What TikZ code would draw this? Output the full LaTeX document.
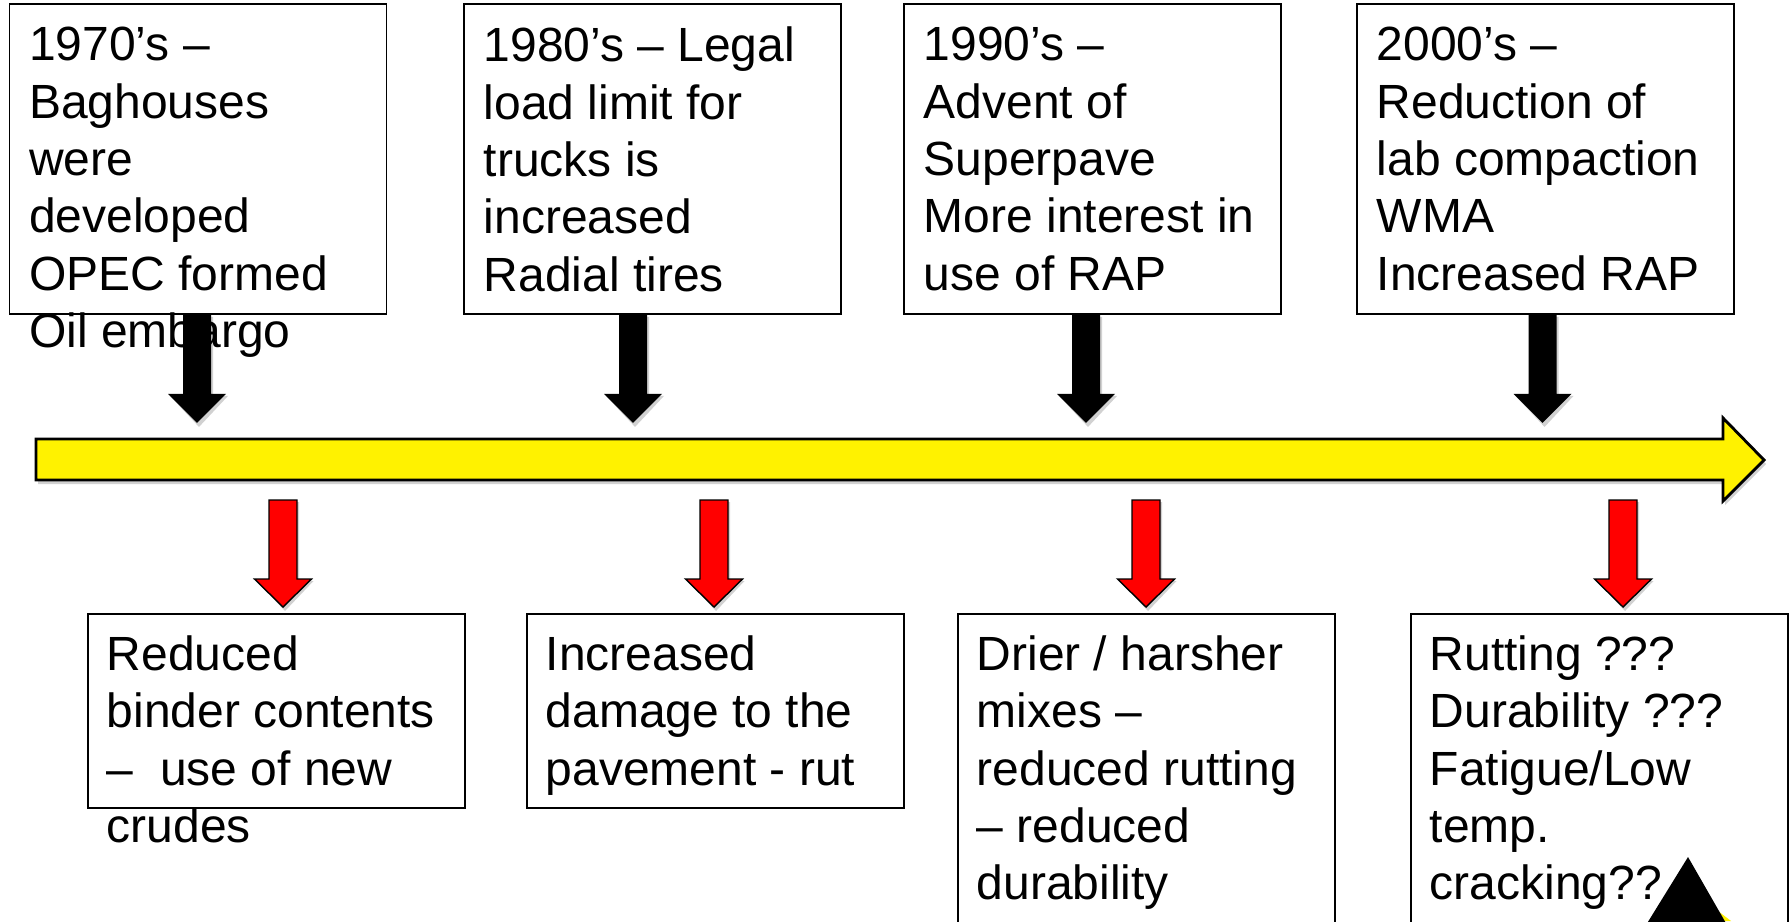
\documentclass[tikz,border=0pt]{standalone}
\usepackage{fontspec}
\setmainfont{Liberation Sans}
\begin{document}
\begin{tikzpicture}[x=0.01cm,y=-0.01cm,
  boxnode/.style={draw=black,line width=0.5pt,fill=white,minimum width=3.77cm,minimum height=3.10cm,anchor=north west,inner sep=0},
  lowbox/.style={boxnode,minimum height=1.94cm},
  tallbox/.style={boxnode,minimum height=3.4cm},
  txt/.style={anchor=north west,align=left,inner sep=0,font=\fontsize{13.65pt}{16.3pt}\selectfont,execute at begin node={\rule{0pt}{11pt}}},
  shadowfill/.style={fill=black,opacity=0.18}
]
\newcommand{\blkarr}[1]{%
  \fill[shadowfill] (#1) ++(-12,2) -- ++(0,79) -- ++(-15,0) -- ++(29,31) -- ++(29,-31) -- ++(-15,0) -- ++(0,-79) -- cycle;
  \fill[black] (#1) ++(-14,0) -- ++(0,79) -- ++(-15,0) -- ++(29,29) -- ++(29,-29) -- ++(-15,0) -- ++(0,-79) -- cycle;}
\newcommand{\redarr}[1]{%
  \fill[shadowfill] (#1) ++(-12,2) -- ++(0,79) -- ++(-14.5,0) -- ++(28.5,30) -- ++(28.5,-30) -- ++(-14.5,0) -- ++(0,-79) -- cycle;
  \filldraw[fill=red,draw=black,line width=0.4pt] (#1) ++(-14,0) -- ++(0,79) -- ++(-14.5,0) -- ++(28.5,28) -- ++(28.5,-28) -- ++(-14.5,0) -- ++(0,-79) -- cycle;}
\clip (0,0) rectangle (1789,921);
\fill[white] (0,0) rectangle (1789,921);

% timeline
\fill[shadowfill] (38,443) -- (1725,443) -- (1725,422) -- (1766,464) -- (1725,505) -- (1725,484) -- (38,484) -- cycle;
\filldraw[fill=yellow,draw=black,line width=0.8pt] (36,439) -- (1723,439) -- (1723,418) -- (1764,460) -- (1723,501) -- (1723,480) -- (36,480) -- cycle;
\coordinate (tl) at (36,480);

% top boxes
\node[boxnode] (t1) at (8.5,3) {};
\node[boxnode] (t2) at (463,3) {};
\node[boxnode] (t3) at (903,3) {};
\node[boxnode] (t4) at (1356,3) {};
\node[txt] (tt1) at ([shift={(20,23.5)}]t1.north west) {1970’s –\\Baghouses\\were\\developed\\OPEC formed\\Oil embargo};
\node[txt] (tt2) at ([shift={(20,23.5)}]t2.north west) {1980’s – Legal\\load limit for\\trucks is\\increased\\Radial tires};
\node[txt] (tt3) at ([shift={(20,23.5)}]t3.north west) {1990’s –\\Advent of\\Superpave\\More interest in\\use of RAP};
\node[txt] (tt4) at ([shift={(20,23.5)}]t4.north west) {2000’s –\\Reduction of\\lab compaction\\WMA\\Increased RAP};

% black arrows from top boxes to timeline
\path (t1.south west) ++(188.5,0) coordinate (a1);
\path (t2.south west) ++(170,0) coordinate (a2);
\path (t3.south west) ++(183,0) coordinate (a3);
\path (t4.south west) ++(186.5,0) coordinate (a4);
\blkarr{a1}
\blkarr{a2}
\blkarr{a3}
\blkarr{a4}

% bottom boxes
\node[lowbox] (b1) at (87,613) {};
\node[lowbox] (b2) at (526,613) {};
\node[tallbox] (b3) at (957,613) {};
\node[tallbox] (b4) at (1410,613) {};
\node[txt] (bt1) at ([shift={(19,22)}]b1.north west) {Reduced\\binder contents\\–\ \ use of new\\crudes};
\node[txt] (bt2) at ([shift={(19,22)}]b2.north west) {Increased\\damage to the\\pavement - rut};
\node[txt] (bt3) at ([shift={(19,22)}]b3.north west) {Drier / harsher\\mixes –\\reduced rutting\\– reduced\\durability};
\node[txt] (bt4) at ([shift={(19,22)}]b4.north west) {Rutting ???\\Durability ???\\Fatigue/Low\\temp.\\cracking??};

% red arrows from timeline to bottom boxes
\path (tl -| b1.north west) ++(196,20) coordinate (r1);
\path (tl -| b2.north west) ++(188,20) coordinate (r2);
\path (tl -| b3.north west) ++(189,20) coordinate (r3);
\path (tl -| b4.north west) ++(213,20) coordinate (r4);
\redarr{r1}
\redarr{r2}
\redarr{r3}
\redarr{r4}

% partial warning sign at bottom right
\fill[yellow] (1718,911) -- (1731,921) -- (1722,921) -- cycle;
\fill[black] (1688,857) -- (1727,925) -- (1646,925) -- cycle;
\end{tikzpicture}
\end{document}
